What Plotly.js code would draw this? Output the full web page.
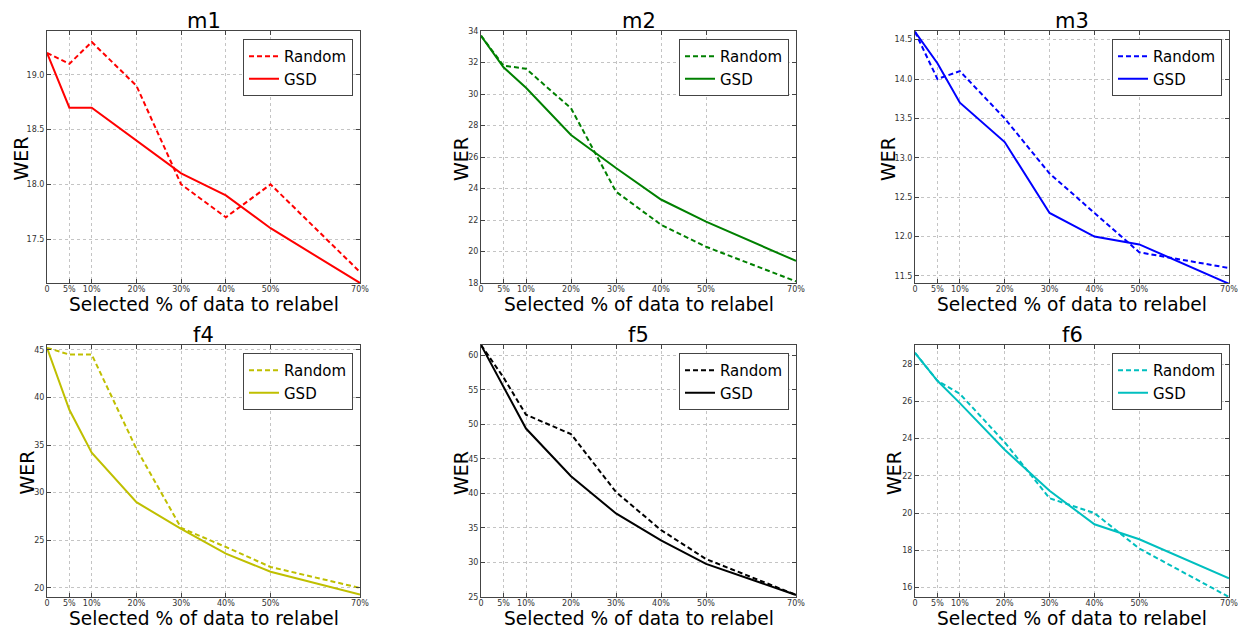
<!DOCTYPE html>
<html>
<head>
<meta charset="utf-8">
<script src="https://cdn.plot.ly/plotly-3.0.1.min.js"></script>
<style>html,body{margin:0;padding:0;background:#fff;}#chart{width:1238px;height:628px;}</style>
</head>
<body>
<div id="chart"></div>
<script>
// Shared x values (percent of data selected for relabelling)
const xPct = [0, 5, 10, 20, 30, 40, 50, 70];
const xTickVals = [0, 5, 10, 20, 30, 40, 50, 70];
const xTickText = ["0", "5%", "10%", "20%", "30%", "40%", "50%", "70%"];

const panelNames = ["m1", "m2", "m3", "f4", "f5", "f6"];
const panelColors = ["#ff0000", "#008000", "#0000ff", "#bfbf00", "#000000", "#00bfbf"];
const xTitle = "Selected % of data to relabel";
const yTitle = "WER";

// WER values per panel
const m1Random = [19.2, 19.1, 19.3, 18.9, 18.0, 17.7, 18.0, 17.2];
const m1GSD    = [19.2, 18.7, 18.7, 18.4, 18.1, 17.9, 17.6, 17.1];
const m2Random = [33.7, 31.8, 31.6, 29.1, 23.8, 21.7, 20.3, 18.1];
const m2GSD    = [33.7, 31.7, 30.4, 27.4, 25.3, 23.3, 21.9, 19.4];
const m3Random = [14.6, 14.0, 14.1, 13.5, 12.8, 12.3, 11.8, 11.6];
const m3GSD    = [14.6, 14.2, 13.7, 13.2, 12.3, 12.0, 11.9, 11.4];
const f4Random = [45.2, 44.5, 44.5, 34.6, 26.3, 24.3, 22.2, 20.0];
const f4GSD    = [45.2, 38.7, 34.2, 29.0, 26.2, 23.6, 21.7, 19.3];
const f5Random = [61.5, 56.8, 51.4, 48.6, 40.2, 34.7, 30.5, 25.3];
const f5GSD    = [61.5, 55.4, 49.4, 42.5, 37.1, 33.2, 29.8, 25.3];
const f6Random = [28.6, 27.1, 26.4, 23.8, 20.8, 20.0, 18.1, 15.5];
const f6GSD    = [28.6, 27.1, 25.9, 23.4, 21.2, 19.4, 18.6, 16.5];

const randomSeries = [m1Random, m2Random, m3Random, f4Random, f5Random, f6Random];
const gsdSeries = [m1GSD, m2GSD, m3GSD, f4GSD, f5GSD, f6GSD];

// y ranges and ticks
const yRanges = [[17.1, 19.4], [18, 34], [11.41, 14.61], [19.05, 45.5], [25, 61.5], [15.5, 29.02]];
const yTicks = [
  [17.5, 18.0, 18.5, 19.0],
  [18, 20, 22, 24, 26, 28, 30, 32, 34],
  [11.5, 12.0, 12.5, 13.0, 13.5, 14.0, 14.5],
  [20, 25, 30, 35, 40, 45],
  [25, 30, 35, 40, 45, 50, 55, 60],
  [16, 18, 20, 22, 24, 26, 28]
];
const yTickFmt = [".1f", "d", ".1f", "d", "d", "d"];

const W = 1238, H = 628;
// plot area pixel boxes [left, right, top, bottom]
const boxes = [
  [47, 360, 31, 283], [481, 796, 31, 283], [915, 1229, 31, 283],
  [47, 360, 345, 597], [481, 796, 345, 597], [915, 1229, 345, 597]
];
// horizontal centre of each WER label, in pixels
const yTitleX = [20.5, 461, 888, 26.5, 461, 894];

const FONT = "DejaVu Sans, Liberation Sans, sans-serif";
const traces = [];
const layout = {
  width: W, height: H,
  margin: {l: 0, r: 0, t: 0, b: 0},
  paper_bgcolor: "#ffffff", plot_bgcolor: "#ffffff",
  font: {family: FONT, color: "#000"},
  showlegend: true,
  annotations: []
};

for (let i = 0; i < 6; i++) {
  const n = i + 1;
  const xa = n === 1 ? "x" : "x" + n;
  const ya = n === 1 ? "y" : "y" + n;
  const lg = n === 1 ? "legend" : "legend" + n;
  const b = boxes[i];
  traces.push({
    x: xPct, y: randomSeries[i], xaxis: xa, yaxis: ya, legend: lg,
    type: "scatter", mode: "lines", name: "Random",
    line: {color: panelColors[i], width: 2, dash: "5px,3px"}
  });
  traces.push({
    x: xPct, y: gsdSeries[i], xaxis: xa, yaxis: ya, legend: lg,
    type: "scatter", mode: "lines", name: "GSD",
    line: {color: panelColors[i], width: 2}
  });
  const axCommon = {
    showline: true, linecolor: "#444", linewidth: 1, mirror: "ticks",
    ticks: "inside", ticklen: 4, tickcolor: "#444",
    showgrid: true, gridcolor: "#c4c4c4", griddash: "dot", gridwidth: 1,
    zeroline: false, tickfont: {size: 8, color: "#333", family: FONT},
    ticklabeloverflow: "allow"
  };
  layout["xaxis" + (n === 1 ? "" : n)] = Object.assign({}, axCommon, {
    domain: [b[0] / W, b[1] / W], anchor: ya, range: [0, 70],
    tickmode: "array", tickvals: xTickVals, ticktext: xTickText,
    ticklabelstandoff: -2
  });
  layout["yaxis" + (n === 1 ? "" : n)] = Object.assign({}, axCommon, {
    domain: [1 - b[3] / H, 1 - b[2] / H], anchor: xa, range: yRanges[i],
    tickmode: "array", tickvals: yTicks[i], tickformat: yTickFmt[i]
  });
  layout[lg] = {
    x: (b[1] - 7) / W, y: 1 - (b[2] + 8) / H, xanchor: "right", yanchor: "top",
    xref: "paper", yref: "paper",
    bgcolor: "#ffffff", bordercolor: "#444", borderwidth: 1,
    font: {size: 15, family: FONT, color: "#000"}, itemwidth: 30, tracegroupgap: 0
  };
  // subplot title
  layout.annotations.push({
    text: panelNames[i], xref: "paper", yref: "paper",
    x: (b[0] + b[1]) / 2 / W, y: 1 - b[2] / H, xanchor: "center", yanchor: "bottom",
    showarrow: false, font: {size: 21, family: FONT, color: "#000"}, yshift: -4
  });
  // x axis title
  layout.annotations.push({
    text: xTitle, xref: "paper", yref: "paper",
    x: (b[0] + b[1]) / 2 / W, y: 1 - (b[3] + 21) / H, xanchor: "center", yanchor: "middle",
    showarrow: false, font: {size: 18.6, family: FONT, color: "#000"}
  });
  // y axis title
  layout.annotations.push({
    text: yTitle, xref: "paper", yref: "paper", textangle: -90,
    x: yTitleX[i] / W, y: 1 - ((b[2] + b[3]) / 2 + 2) / H, xanchor: "center", yanchor: "middle",
    showarrow: false, font: {size: 19, family: FONT, color: "#000"}
  });
}

Plotly.newPlot("chart", traces, layout, {displayModeBar: false, staticPlot: true});
</script>
</body>
</html>
